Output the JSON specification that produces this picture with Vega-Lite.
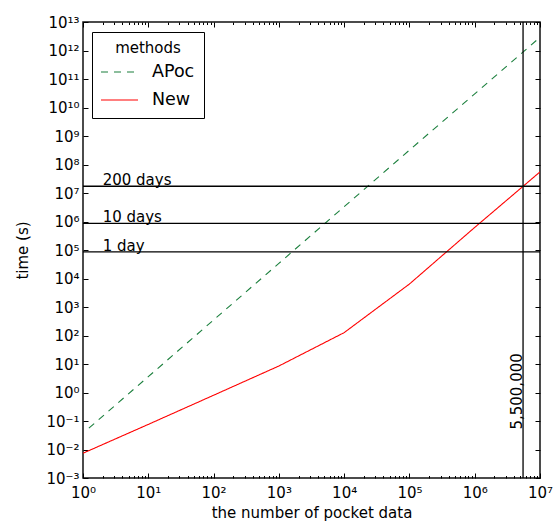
{
  "$schema": "https://vega.github.io/schema/vega-lite/v6.json",
  "width": 457,
  "height": 456,
  "autosize": {"type": "none"},
  "padding": {"left": 83, "top": 22, "right": 15, "bottom": 44},
  "config": {
    "font": "DejaVu Sans",
    "view": {"stroke": "#111", "strokeWidth": 1.5},
    "axis": {"grid": false, "domain": false, "labelFlush": false, "labelFontSize": 15, "labelColor": "black", "tickColor": "black", "tickWidth": 1, "titleFontWeight": "normal", "titleFontSize": 15, "titleColor": "black"},
    "legend": {"orient": "none", "legendX": 9, "legendY": 10, "strokeColor": "black", "fillColor": "white", "padding": 9, "cornerRadius": 0, "titleFontSize": 15, "titleFontWeight": "normal", "titleAnchor": "middle", "titleColor": "black", "titlePadding": 5, "labelFontSize": 17.5, "labelColor": "black", "labelOffset": 29, "rowPadding": 8, "symbolType": "M-1.1,0H2.6", "symbolSize": 400, "symbolStrokeWidth": 1.2}
  },
  "datasets": {
    "series": [
      {"method": "APoc", "n": 1.23, "t": 0.056},
      {"method": "APoc", "n": 10, "t": 3.6},
      {"method": "APoc", "n": 100, "t": 350},
      {"method": "APoc", "n": 1000, "t": 34000},
      {"method": "APoc", "n": 10000, "t": 3300000},
      {"method": "APoc", "n": 100000, "t": 320000000},
      {"method": "APoc", "n": 1000000, "t": 30000000000},
      {"method": "APoc", "n": 10000000, "t": 2900000000000},
      {"method": "New", "n": 1, "t": 0.0074},
      {"method": "New", "n": 10, "t": 0.076},
      {"method": "New", "n": 100, "t": 0.8},
      {"method": "New", "n": 1000, "t": 8.5},
      {"method": "New", "n": 10000, "t": 126},
      {"method": "New", "n": 100000, "t": 6400},
      {"method": "New", "n": 1000000, "t": 620000},
      {"method": "New", "n": 10000000, "t": 55000000}
    ],
    "days": [
      {"label": "200 days", "v": 17280000},
      {"label": "10 days", "v": 864000},
      {"label": "1 day", "v": 86400}
    ],
    "vline": [
      {"label": "5,500,000", "n": 5500000}
    ]
  },
  "resolve": {"axis": {"x": "independent", "y": "independent"}},
  "layer": [
    {
      "data": {"name": "series"},
      "mark": {"type": "line", "strokeWidth": 1.1, "clip": true},
      "encoding": {
        "x": {"field": "n", "type": "quantitative", "scale": {"type": "log", "domain": [1, 10000000], "nice": false},
          "axis": {"orient": "bottom", "values": [1, 10, 100, 1000, 10000, 100000, 1000000, 10000000], "tickSize": -5, "labelPadding": 12,
            "labelExpr": "'10' + substring('⁰¹²³⁴⁵⁶⁷⁸⁹', round(log(datum.value)/LN10), round(log(datum.value)/LN10) + 1)",
            "title": "the number of pocket data", "titlePadding": 5}},
        "y": {"field": "t", "type": "quantitative", "scale": {"type": "log", "domain": [0.001, 10000000000000], "nice": false},
          "axis": {"orient": "left", "values": [0.001, 0.01, 0.1, 1, 10, 100, 1000, 10000, 100000, 1000000, 10000000, 100000000, 1000000000, 10000000000, 100000000000, 1000000000000, 10000000000000], "tickSize": -5, "labelPadding": 9,
            "labelExpr": "'10' + (datum.value < 0.9 ? '⁻' : '') + (abs(round(log(datum.value)/LN10)) >= 10 ? '¹' : '') + substring('⁰¹²³⁴⁵⁶⁷⁸⁹', abs(round(log(datum.value)/LN10)) % 10, abs(round(log(datum.value)/LN10)) % 10 + 1)",
            "title": "time (s)", "titlePadding": 15}},
        "color": {"field": "method", "type": "nominal", "scale": {"domain": ["APoc", "New"], "range": ["#1a7f3c", "#ff0000"]},
          "legend": {"title": "methods", "encode": {"symbols": {"update": {"strokeDash": {"signal": "datum.value == 'APoc' ? [7, 6] : [1, 0]"}, "fill": {"value": "transparent"}}}}}},
        "strokeDash": {"field": "method", "type": "nominal", "scale": {"domain": ["APoc", "New"], "range": [[7, 6], [1, 0]]}, "legend": null}
      }
    },
    {
      "data": {"name": "days"},
      "mark": {"type": "rule", "color": "black", "strokeWidth": 1.3},
      "encoding": {
        "y": {"field": "v", "type": "quantitative", "scale": {"type": "log", "domain": [0.001, 10000000000000], "nice": false},
          "axis": {"orient": "right", "values": [0.001, 0.01, 0.1, 1, 10, 100, 1000, 10000, 100000, 1000000, 10000000, 100000000, 1000000000, 10000000000, 100000000000, 1000000000000, 10000000000000], "labels": false, "tickSize": -5, "title": null}}
      }
    },
    {
      "data": {"name": "days"},
      "mark": {"type": "text", "align": "left", "baseline": "alphabetic", "dy": -1, "fontSize": 15, "color": "black"},
      "encoding": {
        "x": {"datum": 2, "type": "quantitative", "scale": {"type": "log", "domain": [1, 10000000], "nice": false},
          "axis": {"orient": "top", "values": [2,3,4,5,6,7,8,9,20,30,40,50,60,70,80,90,200,300,400,500,600,700,800,900,2000,3000,4000,5000,6000,7000,8000,9000,20000,30000,40000,50000,60000,70000,80000,90000,200000,300000,400000,500000,600000,700000,800000,900000,2000000,3000000,4000000,5000000,6000000,7000000,8000000,9000000], "labels": false, "tickSize": -2.5, "title": null}},
        "y": {"field": "v", "type": "quantitative", "axis": null},
        "text": {"field": "label"}
      }
    },
    {
      "data": {"name": "vline"},
      "mark": {"type": "rule", "color": "black", "strokeWidth": 1.3},
      "encoding": {
        "x": {"field": "n", "type": "quantitative", "scale": {"type": "log", "domain": [1, 10000000], "nice": false},
          "axis": {"orient": "top", "values": [1, 10, 100, 1000, 10000, 100000, 1000000, 10000000], "labels": false, "tickSize": -5, "title": null}}
      }
    },
    {
      "data": {"name": "vline"},
      "mark": {"type": "text", "angle": 270, "align": "left", "baseline": "alphabetic", "dy": -1.5, "fontSize": 15, "color": "black"},
      "encoding": {
        "x": {"field": "n", "type": "quantitative", "scale": {"type": "log", "domain": [1, 10000000], "nice": false},
          "axis": {"orient": "bottom", "values": [2,3,4,5,6,7,8,9,20,30,40,50,60,70,80,90,200,300,400,500,600,700,800,900,2000,3000,4000,5000,6000,7000,8000,9000,20000,30000,40000,50000,60000,70000,80000,90000,200000,300000,400000,500000,600000,700000,800000,900000,2000000,3000000,4000000,5000000,6000000,7000000,8000000,9000000], "labels": false, "tickSize": -2.5, "title": null}},
        "y": {"datum": 0.05, "type": "quantitative", "axis": null},
        "text": {"field": "label"}
      }
    }
  ]
}
